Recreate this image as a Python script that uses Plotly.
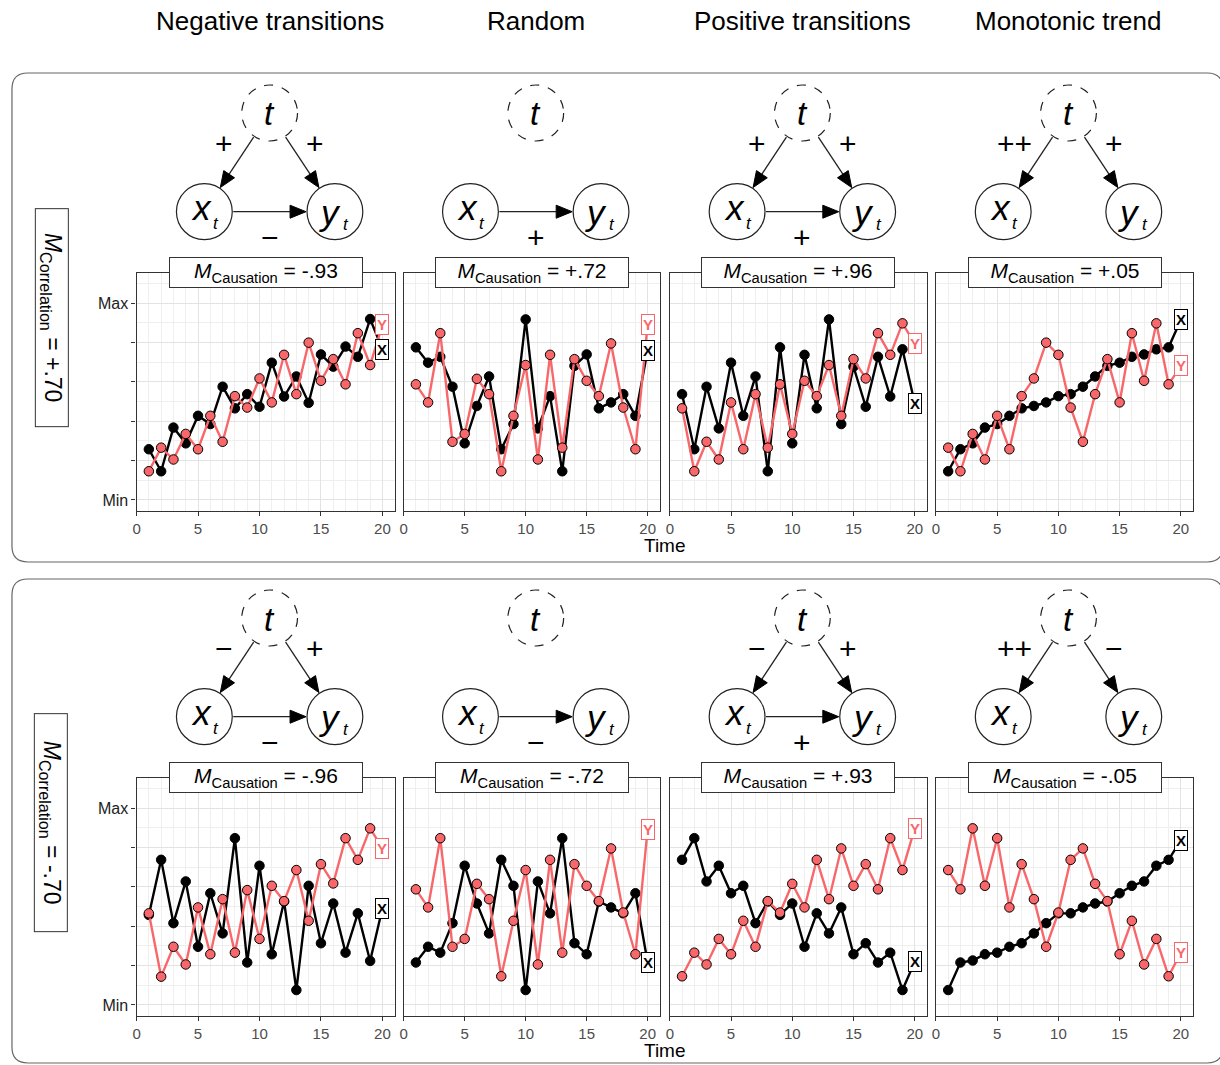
import plotly.graph_objects as go

W, H = 1220, 1065
FONT = "Liberation Sans, Arial, sans-serif"
RED = "#F8686B"

# ---------------- data ----------------
time = list(range(1, 21))

column_titles = ["Negative transitions", "Random", "Positive transitions", "Monotonic trend"]
causation_top = ["-.93", "+.72", "+.96", "+.05"]
causation_bottom = ["-.96", "-.72", "+.93", "-.05"]
correlation_labels = ["+.70", "-.70"]

# DAG edge signs (None = no edge)
dag_left_top = ["+", None, "+", "++"]
dag_right_top = ["+", None, "+", "+"]
dag_xy_top = ["−", "+", "+", None]
dag_left_bottom = ["−", None, "−", "++"]
dag_right_bottom = ["+", None, "+", "−"]
dag_xy_bottom = ["−", "−", "+", None]

# top row (M_Correlation = +.70)
x_neg_top = [1.29, 0.73, 1.84, 1.44, 2.14, 1.93, 2.88, 2.33, 2.69, 2.37, 3.49, 2.63, 3.14, 2.47, 3.70, 3.39, 3.90, 3.64, 4.60, 3.83]
y_neg_top = [0.73, 1.33, 1.03, 1.68, 1.29, 2.14, 1.48, 2.64, 2.35, 3.09, 2.48, 3.69, 2.69, 4.00, 3.03, 3.58, 2.94, 4.24, 3.43, 4.45]
x_rand_top = [3.88, 3.49, 3.64, 2.88, 1.44, 2.39, 3.14, 1.29, 1.93, 4.59, 1.82, 2.64, 0.73, 3.41, 3.70, 2.33, 2.48, 2.69, 2.14, 3.81]
y_rand_top = [2.94, 2.48, 4.24, 1.48, 1.68, 3.08, 2.69, 0.73, 2.14, 3.43, 1.03, 3.69, 1.33, 3.58, 3.03, 2.64, 3.98, 2.35, 1.29, 4.47]
x_pos_top = [2.69, 1.29, 2.88, 1.82, 3.49, 2.14, 3.14, 0.73, 3.88, 1.44, 3.69, 2.33, 4.59, 1.93, 3.39, 2.37, 3.64, 2.63, 3.83, 2.46]
y_pos_top = [2.33, 0.73, 1.48, 1.03, 2.48, 1.29, 2.69, 1.33, 2.94, 1.68, 3.03, 2.64, 3.43, 2.14, 3.58, 3.09, 4.24, 3.69, 4.49, 3.98]
x_mono_top = [0.73, 1.29, 1.44, 1.84, 1.93, 2.14, 2.33, 2.39, 2.48, 2.64, 2.69, 2.88, 3.14, 3.41, 3.49, 3.64, 3.70, 3.83, 3.88, 4.58]
y_mono_top = [1.33, 0.73, 1.68, 1.03, 2.14, 1.29, 2.64, 3.09, 4.00, 3.69, 2.35, 1.48, 2.69, 3.58, 2.48, 4.24, 3.03, 4.49, 2.94, 3.41]

# bottom row (M_Correlation = -.70)
x_neg_bot = [2.29, 3.69, 2.08, 3.14, 1.48, 2.84, 1.82, 4.24, 1.08, 3.54, 1.29, 2.63, 0.38, 3.03, 1.57, 2.58, 1.33, 2.33, 1.12, 2.46]
y_neg_bot = [2.33, 0.72, 1.48, 1.03, 2.48, 1.29, 2.69, 1.33, 2.92, 1.68, 3.03, 2.64, 3.43, 2.14, 3.58, 3.09, 4.24, 3.69, 4.49, 3.98]
x_rand_bot = [1.08, 1.48, 1.33, 2.08, 3.54, 2.58, 1.82, 3.69, 3.03, 0.38, 3.14, 2.33, 4.24, 1.57, 1.29, 2.63, 2.48, 2.33, 2.84, 1.08]
y_rand_bot = [2.94, 2.48, 4.24, 1.48, 1.68, 3.08, 2.69, 0.73, 2.14, 3.43, 1.03, 3.69, 1.33, 3.58, 3.03, 2.64, 3.98, 2.35, 1.29, 4.47]
x_pos_bot = [3.69, 4.24, 3.14, 3.54, 2.84, 3.03, 2.08, 2.63, 2.29, 2.58, 1.48, 2.33, 1.82, 2.48, 1.29, 1.57, 1.08, 1.33, 0.38, 1.10]
y_pos_bot = [0.73, 1.33, 1.03, 1.68, 1.29, 2.14, 1.48, 2.64, 2.35, 3.08, 2.48, 3.69, 2.69, 3.98, 3.03, 3.58, 2.94, 4.24, 3.43, 4.49]
x_mono_bot = [0.38, 1.08, 1.13, 1.29, 1.33, 1.48, 1.57, 1.82, 2.08, 2.33, 2.33, 2.48, 2.58, 2.63, 2.84, 3.03, 3.14, 3.54, 3.69, 4.19]
y_mono_bot = [3.43, 2.94, 4.49, 3.03, 4.24, 2.48, 3.58, 2.69, 1.48, 2.35, 3.69, 3.98, 3.08, 2.64, 1.29, 2.14, 1.03, 1.68, 0.73, 1.33]

y_tickvals = [0, 1, 2, 3, 4, 5]
y_ticktext = ["Min", "", "", "", "", "Max"]
x_tickvals = [0, 5, 10, 15, 20]

# ---------------- layout geometry (pixels) ----------------
col_left = [133, 401, 668, 935]
col_right = [392, 658, 926, 1193]
row_top = [273, 778]
row_bot = [511, 1016]
row_offset = [0, 505]

xs = [[x_neg_top, x_rand_top, x_pos_top, x_mono_top], [x_neg_bot, x_rand_bot, x_pos_bot, x_mono_bot]]
ys = [[y_neg_top, y_rand_top, y_pos_top, y_mono_top], [y_neg_bot, y_rand_bot, y_pos_bot, y_mono_bot]]
caus = [causation_top, causation_bottom]
dl = [dag_left_top, dag_left_bottom]
dr = [dag_right_top, dag_right_bottom]
dxy = [dag_xy_top, dag_xy_bottom]


def px(x):
    return x / W


def py(y):
    return 1 - y / H


fig = go.Figure()
layout = {}
annotations = []
shapes = []


def text(x, y, s, size, **kw):
    d = dict(xref="paper", yref="paper", x=px(x), y=py(y), text=s, showarrow=False,
             xanchor="center", yanchor="middle",
             font=dict(size=size, color="black", family=FONT))
    d.update(kw)
    annotations.append(d)


for r in range(2):
    for c in range(4):
        k = r * 4 + c + 1
        xa = "x" if k == 1 else f"x{k}"
        ya = "y" if k == 1 else f"y{k}"
        X, Y = xs[r][c], ys[r][c]
        fig.add_trace(go.Scatter(x=time, y=X, mode="lines", line=dict(color="black", width=2.4),
                                 xaxis=xa, yaxis=ya, hoverinfo="skip", showlegend=False))
        fig.add_trace(go.Scatter(x=time[:-1], y=X[:-1], mode="markers",
                                 marker=dict(color="black", size=9.5, line=dict(color="black", width=1)),
                                 xaxis=xa, yaxis=ya, hoverinfo="skip", showlegend=False))
        fig.add_trace(go.Scatter(x=time, y=Y, mode="lines", line=dict(color=RED, width=2.4),
                                 xaxis=xa, yaxis=ya, hoverinfo="skip", showlegend=False))
        fig.add_trace(go.Scatter(x=time[:-1], y=Y[:-1], mode="markers",
                                 marker=dict(color=RED, size=9.5, line=dict(color="black", width=1)),
                                 xaxis=xa, yaxis=ya, hoverinfo="skip", showlegend=False))
        # end labels
        annotations.append(dict(xref=xa, yref=ya, x=time[-1], y=X[-1], text="<b>X</b>", showarrow=False,
                                xanchor="center", yanchor="middle",
                                font=dict(size=15, color="black", family=FONT), bgcolor="white",
                                bordercolor="black", borderwidth=1, borderpad=1))
        annotations.append(dict(xref=xa, yref=ya, x=time[-1], y=Y[-1], text="<b>Y</b>", showarrow=False,
                                xanchor="center", yanchor="middle",
                                font=dict(size=15, color=RED, family=FONT), bgcolor="white",
                                bordercolor=RED, borderwidth=1, borderpad=1))
        # axes
        xkey = "xaxis" if k == 1 else f"xaxis{k}"
        ykey = "yaxis" if k == 1 else f"yaxis{k}"
        layout[xkey] = dict(domain=[px(col_left[c]), px(col_right[c])], anchor=ya, range=[0, 21],
                            tickmode="array", tickvals=x_tickvals, ticks="outside", ticklen=4,
                            tickcolor="#333", tickfont=dict(size=15, color="#4d4d4d", family=FONT),
                            showgrid=True, gridcolor="#e3e3e3", gridwidth=1.2,
                            minor=dict(tickmode="linear", tick0=0, dtick=1, showgrid=True,
                                       gridcolor="#efefef", gridwidth=0.8),
                            showline=True, mirror=True, linecolor="#333", linewidth=1.2,
                            zeroline=False, fixedrange=True)
        layout[ykey] = dict(domain=[py(row_bot[r]), py(row_top[r])], anchor=xa, range=[-0.28, 5.77],
                            tickmode="array", tickvals=y_tickvals, ticktext=y_ticktext,
                            ticks="outside" if c == 0 else "", ticklen=4, tickcolor="#333",
                            showticklabels=(c == 0),
                            tickfont=dict(size=16, color="#222", family=FONT),
                            showgrid=True, gridcolor="#e3e3e3", gridwidth=1.2,
                            minor=dict(tickmode="linear", tick0=0, dtick=0.5, showgrid=True,
                                       gridcolor="#efefef", gridwidth=0.8),
                            showline=True, mirror=True, linecolor="#333", linewidth=1.2,
                            zeroline=False, fixedrange=True)
        # causation strip label
        cxp = (col_left[c] + col_right[c]) / 2
        text(cxp, row_top[r] - 0.5, f"<i>M</i><sub>Causation</sub> = {caus[r][c]}", 21,
             bgcolor="white", bordercolor="#333", borderwidth=1, width=190, height=27)

        # ---------- DAG ----------
        cx = cxp + 4
        off = row_offset[r]
        R = 28
        tC = (cx, 113 + off)
        xC = (cx - 65.5, 211.7 + off)
        yC = (cx + 65.5, 211.7 + off)
        for (ccx, ccy), dash in [(tC, "dash"), (xC, "solid"), (yC, "solid")]:
            shapes.append(dict(type="circle", xref="paper", yref="paper",
                               x0=px(ccx - R), x1=px(ccx + R), y0=py(ccy + R), y1=py(ccy - R),
                               line=dict(color="#222", width=1.2, dash=dash)))
        text(tC[0], tC[1] + 1, "<i>t</i>", 33)
        text(xC[0] - 3, xC[1] - 4, "<i>x</i>", 35)
        text(xC[0] + 12, xC[1] + 12, "<i>t</i>", 17)
        text(yC[0] - 5, yC[1] + 1, "<i>y</i>", 35)
        text(yC[0] + 11, yC[1] + 13, "<i>t</i>", 17)

        def arrow(a, b):
            dx, dy = b[0] - a[0], b[1] - a[1]
            L = (dx * dx + dy * dy) ** 0.5
            ux, uy = dx / L, dy / L
            sx, sy = a[0] + ux * (R + 1), a[1] + uy * (R + 1)
            ex, ey = b[0] - ux * (R + 1), b[1] - uy * (R + 1)
            hl, hw = 16, 6.5
            bx, by = ex - ux * hl, ey - uy * hl
            shapes.append(dict(type="line", xref="paper", yref="paper", x0=px(sx), y0=py(sy),
                               x1=px(bx), y1=py(by), line=dict(color="#222", width=1.3)))
            p1 = (bx - uy * hw, by + ux * hw)
            p2 = (bx + uy * hw, by - ux * hw)
            path = (f"M {px(ex)},{py(ey)} L {px(p1[0])},{py(p1[1])} "
                    f"L {px(p2[0])},{py(p2[1])} Z")
            shapes.append(dict(type="path", xref="paper", yref="paper", path=path,
                               fillcolor="black", line=dict(color="black", width=1)))

        if dl[r][c] is not None:
            arrow(tC, xC)
            lx = cx - (54 if len(dl[r][c]) > 1 else 46)
            text(lx, 143 + off, dl[r][c], 30)
        if dr[r][c] is not None:
            arrow(tC, yC)
            text(cx + 46, 143 + off, dr[r][c], 30)
        if dxy[r][c] is not None:
            arrow(xC, yC)
            text(cx, 237 + off, dxy[r][c], 30)

    # row frame (rounded)
    top = 73 if r == 0 else 579
    bot = 562 if r == 0 else 1063
    lft, rgt, rad = 8, 1223, 16
    path = (f"M {px(lft + rad)},{py(top)} L {px(rgt - rad)},{py(top)} "
            f"Q {px(rgt)},{py(top)} {px(rgt)},{py(top + rad)} "
            f"L {px(rgt)},{py(bot - rad)} Q {px(rgt)},{py(bot)} {px(rgt - rad)},{py(bot)} "
            f"L {px(lft + rad)},{py(bot)} Q {px(lft)},{py(bot)} {px(lft)},{py(bot - rad)} "
            f"L {px(lft)},{py(top + rad)} Q {px(lft)},{py(top)} {px(lft + rad)},{py(top)} Z")
    shapes.append(dict(type="path", xref="paper", yref="paper", path=path,
                       line=dict(color="#666", width=1.2)))
    # row label
    text(47.5, 317.5 + row_offset[r], f"<i>M</i><sub>Correlation</sub> = {correlation_labels[r]}", 23,
         textangle=90, bgcolor="white", bordercolor="#333", borderwidth=1, width=215, height=30)
    # Time label
    text(663, 545 + row_offset[r], "Time", 19)

for c in range(4):
    cxp = (col_left[c] + col_right[c]) / 2 + 4
    text(cxp, 21, column_titles[c], 26)

layout.update(dict(width=W, height=H, margin=dict(l=0, r=0, t=0, b=0), plot_bgcolor="white",
                   paper_bgcolor="white", annotations=annotations, shapes=shapes, showlegend=False,
                   font=dict(family=FONT)))
fig.update_layout(**layout)
fig.write_html("out.html", config={"displayModeBar": False},
               post_script="document.body.style.margin='0';")
